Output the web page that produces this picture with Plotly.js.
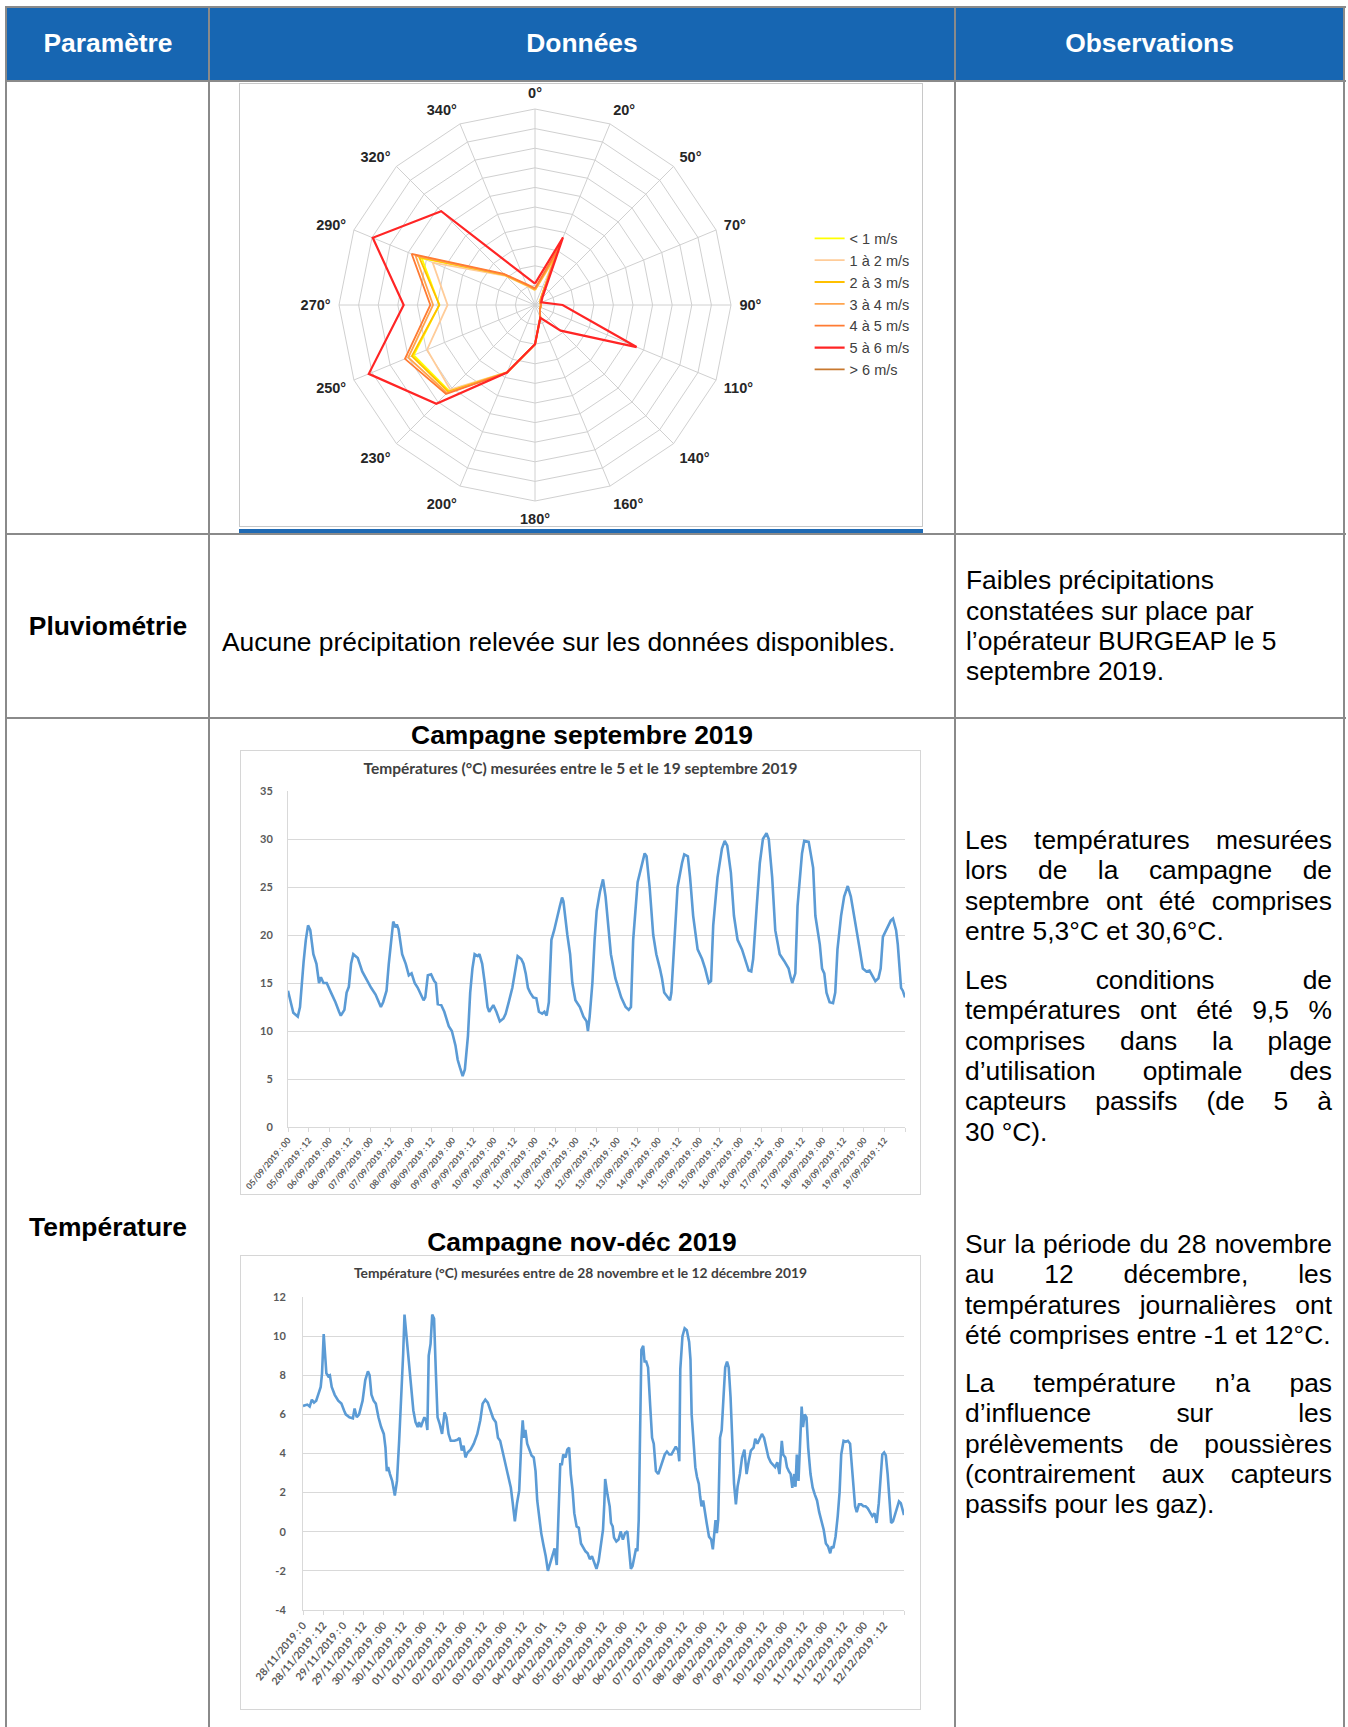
<!DOCTYPE html>
<html><head><meta charset="utf-8">
<script src="https://cdn.plot.ly/plotly-3.0.1.min.js"></script>
<style>
body{margin:0;background:#fff;}
#page{position:relative;width:1348px;height:1727px;overflow:hidden;font-family:'Liberation Sans',Arial,sans-serif;color:#000;background:#fff;}
.hl{position:absolute;height:2px;background:#8a8a8a;}
.vl{position:absolute;width:2px;background:#8a8a8a;}
.hdr{position:absolute;color:#fff;font-weight:bold;font-size:26.4px;line-height:30.4px;text-align:center;white-space:nowrap;}
.lbl{position:absolute;font-weight:bold;font-size:26.4px;line-height:30.4px;text-align:center;white-space:nowrap;}
.txt{position:absolute;font-size:26.4px;line-height:30.4px;white-space:nowrap;}
.par{position:absolute;left:965px;width:367px;font-size:26.4px;line-height:30.4px;}
.par div{text-align:justify;text-align-last:justify;white-space:nowrap;}
.par div.last{text-align:left;text-align-last:left;}
.frame{position:absolute;box-sizing:border-box;border:1px solid #d6d6d6;background:#fff;}
.plot{position:absolute;}
</style>
</head>
<body>
<div id="page">
  <div style="position:absolute;left:6px;top:7px;width:1338px;height:74px;background:#1766B2;"></div>
  <div class="hdr" style="left:7px;width:202px;top:27.8px;">Paramètre</div>
  <div class="hdr" style="left:209px;width:746px;top:27.8px;">Données</div>
  <div class="hdr" style="left:955px;width:389px;top:27.8px;">Observations</div>

  <div class="frame" style="left:239px;top:83px;width:684px;height:444px;border-color:#c8c8c8;"></div>
  <div style="position:absolute;left:239px;top:529px;width:684px;height:4px;background:#1F6AB4;"></div>

  <div class="lbl" style="left:7px;width:202px;top:610.8px;">Pluviométrie</div>
  <div class="txt" style="left:222px;top:626.8px;">Aucune précipitation relevée sur les données disponibles.</div>
  <div class="txt" style="left:966px;top:565.2px;">Faibles précipitations<br>constatées sur place par<br>l’opérateur BURGEAP le 5<br>septembre 2019.</div>

  <div class="lbl" style="left:7px;width:202px;top:1211.8px;">Température</div>
  <div class="lbl" style="left:209px;width:746px;top:719.8px;">Campagne septembre 2019</div>
  <div class="frame" style="left:240px;top:750px;width:681px;height:445px;"></div>

  <div class="lbl" style="left:209px;width:746px;top:1226.8px;">Campagne nov-déc 2019</div>
  <div class="frame" style="left:240px;top:1255px;width:681px;height:455px;"></div>
  <div id="tnov" class="plot" style="left:230px;top:1255px;width:691px;height:455px;"></div>
  <div id="tsep" class="plot" style="left:230px;top:750px;width:691px;height:475px;"></div>

  <div class="par" style="top:824.8px;">
    <div>Les températures mesurées</div>
    <div>lors de la campagne de</div>
    <div>septembre ont été comprises</div>
    <div class="last">entre 5,3°C et 30,6°C.</div>
  </div>
  <div class="par" style="top:964.8px;">
    <div>Les conditions de</div>
    <div>températures ont été 9,5 %</div>
    <div>comprises dans la plage</div>
    <div>d’utilisation optimale des</div>
    <div>capteurs passifs (de 5 à</div>
    <div class="last">30 °C).</div>
  </div>
  <div class="par" style="top:1228.8px;">
    <div>Sur la période du 28 novembre</div>
    <div>au 12 décembre, les</div>
    <div>températures journalières ont</div>
    <div class="last">été comprises entre -1 et 12°C.</div>
  </div>
  <div class="par" style="top:1367.8px;">
    <div>La température n’a pas</div>
    <div>d’influence sur les</div>
    <div>prélèvements de poussières</div>
    <div>(contrairement aux capteurs</div>
    <div class="last">passifs pour les gaz).</div>
  </div>

  <div class="hl" style="left:6px;top:6px;width:1340px;"></div>
  <div class="hl" style="left:6px;top:80px;width:1340px;"></div>
  <div class="hl" style="left:6px;top:533px;width:1340px;"></div>
  <div class="hl" style="left:6px;top:717px;width:1340px;"></div>
  <div class="vl" style="left:5px;top:6px;height:1721px;"></div>
  <div class="vl" style="left:208px;top:6px;height:1721px;"></div>
  <div class="vl" style="left:954px;top:6px;height:1721px;"></div>
  <div class="vl" style="left:1343px;top:6px;height:1721px;"></div>

  <div id="rose" class="plot" style="left:240px;top:70px;width:683px;height:490px;"></div>
</div>
<script>
// ---------- Wind rose data ----------
const dirLabels = ['0°','20°','50°','70°','90°','110°','140°','160°','180°','200°','230°','250°','270°','290°','320°','340°'];
const speedClasses = ['< 1 m/s','1 à 2 m/s','2 à 3 m/s','3 à 4 m/s','4 à 5 m/s','5 à 6 m/s','> 6 m/s'];
const freqLt1  = [0.77, 2.7, 0.4, 0.3, 0.3, 0.3, 0.35, 0.7, 2.0, 3.72, 6.2, 6.7, 4.88, 6.26, 2.15, 1.08];
const freq1to2 = [0.75, 2.5, 0.4, 0.3, 0.3, 0.3, 0.35, 0.7, 2.0, 3.7, 6.11, 5.96, 4.46, 5.65, 2.1, 1.05];
const freq2to3 = [0.78, 2.8, 0.4, 0.3, 0.3, 0.3, 0.35, 0.7, 2.0, 3.72, 6.25, 6.8, 4.88, 6.4, 2.15, 1.1];
const freq3to4 = [0.8, 3.0, 0.4, 0.3, 0.3, 0.3, 0.35, 0.7, 2.0, 3.73, 6.35, 7.0, 5.2, 6.6, 2.2, 1.12];
const freq4to5 = [0.85, 3.2, 0.45, 0.3, 0.3, 0.3, 0.35, 0.7, 2.0, 3.73, 6.42, 7.18, 5.34, 6.81, 2.25, 1.15];
const freq5to6 = [1.09, 3.73, 0.53, 0.35, 1.41, 5.61, 1.85, 0.71, 2.0, 3.73, 7.12, 9.18, 6.70, 8.96, 6.77, 1.73];
const freqGt6  = [0, 0, 0, 0, 0, 0, 0, 0, 0, 0, 0, 0, 0, 0, 0, 0];

// ---------- Temperature data (September) ----------
const sepHours = [0,3.1,5.7,7,9.1,10.4,11.7,13,14.8,16.6,18.1,19.2,20.7,22.6,25.1,27.7,29.8,30.8,32.9,34.2,35.5,36.8,38.1,40.7,43.3,45.4,48.5,51.1,52.4,54.2,55.5,57.5,58.8,61.4,62.7,63.5,64.5,66.6,68.7,70.5,72.1,73.9,75.7,77,79.1,80.1,81.6,83.5,85.3,86.3,87.4,89.4,91.2,93.8,95.6,97.7,99,100.3,101.9,103.2,105,106.3,107.6,108.9,110.7,111.7,113.3,114.8,116.4,117.4,119.8,121.6,123.6,125.7,127,128.8,130.9,134,136.1,137.4,138.7,140,141.3,143.1,144.9,146.4,148.3,149.6,150.9,152.2,153.7,155.3,156.8,158.6,159.9,160.7,163,164.6,165.9,167.7,170.3,172.4,174.2,175,176,177.6,178.9,180.1,182,183.3,183.8,185.3,187.1,188.4,191,192.8,194.4,197,198.8,200.1,201.4,204,206.6,208.1,209.2,211,213.1,214.9,217,218.2,219.5,221.4,222.9,223.7,225.2,227.3,229.9,231.2,233.3,234.6,236.4,239,241.6,243.4,245.5,246.8,248.1,250.6,253.2,254.8,256.3,258.4,260.2,262.3,264.9,266.7,268.8,270.3,271.4,273.5,275.3,277.1,279.2,280.5,282.5,284.3,286.9,289.5,292.1,293.4,294.2,296,297.3,299.9,301.2,303.8,306.4,307.7,310.3,311.6,312.9,314.2,316,318,319.3,320.6,322.7,324.5,326.6,328.4,329.7,331.5,333.6,335.4,337.5,339.3,340.8,342.7,344.5,345.8,347.1,349.1,351.7,353,354.8,355.8,356.9,357.7,358.7,360];
const sepTemps = [14.2,11.9,11.5,12.5,17.2,19.5,21.0,20.5,18,17,15,15.6,15,15,14,13,12,11.6,12.2,14,14.6,17,18,17.6,16.2,15.5,14.5,13.8,13.2,12.5,13,14.2,17,21.4,20.8,21.1,20.6,18,17,15.8,16,15,14.5,14,13.2,13.5,15.8,15.9,15.2,15,12.8,12.7,12,10.5,10,8.5,7,6.2,5.3,6,9.5,14,16.5,18,17.8,18,17,15,12.5,12,12.7,12,11,11.3,11.8,13,14.5,17.8,17.5,17,16,14.5,14,13.5,13.4,12,11.8,12,11.6,13,19.5,20.5,21.5,23,23.9,23.5,20,18,15,13.2,12.5,11.5,11,10,11.5,15,19.5,22.5,24.5,25.5,25.8,24,20,18,15.5,14.5,13.5,12.5,12.2,12.5,19.5,25.5,27.5,28.5,28.2,25,20,18,16.5,15.5,14,13.5,13.2,14,19,25,27.5,28.4,28.2,26,22,18.5,17.5,16.5,15,15.2,21,26,29,29.8,29.3,26.5,22,19.5,18.5,17.5,16.3,16.2,17.5,23,27.5,30,30.6,30,26,20.5,18,17.3,16.5,15.5,15,16,23,28.5,29.8,29.7,27,22,19,16.5,16,14,13,12.9,14,18.5,22,24,25.1,24,22.5,20.5,18.5,16.5,16.2,16.3,15.8,15.2,15.5,16.5,19.8,20.5,21.5,21.7,20.5,19,16,14.5,14.2,13.5];
const sepTickLabels = ['05/09/2019 : 00','05/09/2019 : 12','06/09/2019 : 00','06/09/2019 : 12','07/09/2019 : 00','07/09/2019 : 12','08/09/2019 : 00','08/09/2019 : 12','09/09/2019 : 00','09/09/2019 : 12','10/09/2019 : 00','10/09/2019 : 12','11/09/2019 : 00','11/09/2019 : 12','12/09/2019 : 00','12/09/2019 : 12','13/09/2019 : 00','13/09/2019 : 12','14/09/2019 : 00','14/09/2019 : 12','15/09/2019 : 00','15/09/2019 : 12','16/09/2019 : 00','16/09/2019 : 12','17/09/2019 : 00','17/09/2019 : 12','18/09/2019 : 00','18/09/2019 : 12','19/09/2019 : 00','19/09/2019 : 12'];
const sepYTicks = [0,5,10,15,20,25,30,35];

// ---------- Temperature data (November-December) ----------
const novHours = [0,2.6,4,5.3,6.6,7.9,9.3,10.6,11.4,12.4,13.2,14,15.1,16.1,17.2,19,21.1,23,24.6,25.6,27.8,29.9,30.9,32.2,33.6,35.7,37.3,38.9,39.9,41,42.3,43.6,45.2,46.8,48.4,49.4,50.2,51,52.1,53.4,55,56.3,57.6,58.9,60,60.8,62.1,63.4,64.8,66.1,67.4,68.7,69.5,70.6,71.6,72.7,73.7,74.5,75.3,76.4,77.4,78.5,79.6,80.6,81.9,83.3,84.8,85.9,87.2,88.5,90.7,92.5,93.8,95.1,96.2,97.3,98.6,100.4,102.3,104.4,106.2,107.6,109.2,110.7,112.3,113.9,115.5,116.8,118.1,119.5,120.8,122.9,124.5,125.5,126.1,126.9,128.2,129.5,130.8,131.6,132.4,133.2,134.3,135.6,136.9,138.2,139.3,140.3,141.4,142.7,144,145.4,146.7,148,149.3,150.7,152,152.8,153.6,154.1,155.1,155.9,157.3,158.3,159.4,160.4,161.5,162.5,163.9,165.2,166.5,167.8,169.2,170.5,171.8,173.1,174.4,175.8,177.1,178.4,179.7,180.5,181,182.4,183.7,184.5,185.5,186.3,187.7,189,190.3,191.6,192.9,194.3,195.6,196.4,197.4,198.5,199.5,200.3,201.1,201.9,202.7,203.8,204.6,205.6,206.7,208,209.1,210.1,211.4,212.8,214.1,215.4,216.7,218,219.4,220.7,222,223.3,224.7,225.4,226,227.3,228.6,229.9,231.3,232.1,232.8,233.9,235,236,237.1,237.9,238.7,239.7,240.8,241.8,243.2,244.5,245.5,246.3,247.1,247.9,248.7,249.8,250.8,251.9,252.9,254,255,256.1,257.2,258.2,259.3,260.3,261.7,263,264.4,265.7,267,268.3,269.9,270.9,272.2,273.6,274.9,276.2,277.5,278.8,280.2,281.5,282.8,284.1,285.4,286.8,287.6,288.9,289.9,291,292.1,293.1,294.2,295,295.8,296.8,297.9,298.7,299.5,300.5,301.6,302.6,304,305.3,306.6,307.9,309.2,310.6,311.9,313.2,314.5,315.8,316.7,317.7,319,320.3,321.4,322.4,323.8,325.1,326.4,327.7,329.1,329.9,330.7,331.7,333,334.4,335.7,337,338.3,339.6,341,342.3,343.6,344.9,346,347,348.1,349.1,350.2,351.3,352.3,353.4,354.7,356,357,358.1,359.2,360];
const novTemps = [6.43,6.5,6.4,6.75,6.6,6.7,7.06,7.4,8.1,10.1,9.1,8.1,7.95,8.0,7.4,7.0,6.7,6.55,6.2,6.0,5.85,5.8,6.3,5.85,6.0,6.7,7.75,8.2,8.0,7.0,6.7,6.55,5.85,5.35,5.0,4.3,3.1,3.3,2.95,2.6,1.85,2.6,4.65,6.7,9.1,11.1,9.8,8.8,7.4,6.2,5.6,5.35,5.6,5.35,5.6,5.85,5.7,5.2,9.0,9.6,11.1,10.9,8.1,5.85,5.5,5.0,6.1,5.85,5.0,4.65,4.65,4.7,4.8,4.15,4.4,3.8,4.05,4.2,4.5,5.0,5.7,6.55,6.75,6.6,6.2,5.8,5.6,4.8,4.65,4.15,3.7,2.95,2.25,1.55,0.95,0.53,1.46,2.1,4.65,5.7,4.8,5.2,4.5,4.15,3.9,3.8,3.1,1.6,0.8,-0.07,-0.66,-1.25,-2.0,-1.6,-1.2,-0.85,-1.7,0.27,1.8,3.45,3.45,3.95,3.8,4.2,4.3,2.95,2.1,0.95,0.27,0.2,-0.6,-0.83,-1.0,-1.1,-1.4,-1.25,-1.6,-1.9,-1.5,-0.75,0.1,1.46,2.7,1.9,1.3,0.45,0.27,-0.3,-0.5,-0.4,0.02,-0.4,-0.07,0.02,-1.1,-1.9,-1.75,-1.2,-0.85,-1.0,0.6,5.0,9.3,9.5,8.7,8.7,8.4,6.4,4.8,4.5,3.1,2.95,3.3,3.6,3.95,4.1,3.95,3.95,4.15,4.35,4.15,3.6,8.3,10.0,10.4,10.3,9.7,8.8,6.0,4.65,3.3,2.8,2.45,1.8,1.3,1.6,1.1,0.45,-0.25,-0.4,-0.9,-0.15,0.6,-0.07,0.6,4.8,5.2,6.9,8.4,8.7,8.4,6.9,4.65,2.45,1.4,2.3,2.95,3.8,4.2,2.95,3.6,4.15,4.3,4.75,4.5,4.8,5.0,4.8,4.3,3.8,3.55,3.45,3.3,3.55,2.95,4.65,3.95,3.8,3.3,3.1,2.95,2.25,2.95,2.3,3.95,2.6,5.0,6.4,5.35,6.0,5.85,4.3,2.95,2.25,1.9,1.6,1.0,0.45,0.1,-0.6,-0.75,-1.1,-0.75,-0.83,-0.25,0.8,2.0,3.95,4.65,4.6,4.65,4.5,3.1,2.0,1.3,1.0,1.4,1.4,1.3,1.3,1.2,1.0,0.8,0.95,0.45,1.46,2.95,3.95,4.05,3.9,2.95,1.8,0.45,0.53,0.95,1.3,1.55,1.46,1.1,0.85];
const novTickLabels = ['28/11/2019 : 0','28/11/2019 : 12','29/11/2019 : 0','29/11/2019 : 12','30/11/2019 : 00','30/11/2019 : 12','01/12/2019 : 00','01/12/2019 : 12','02/12/2019 : 00','02/12/2019 : 12','03/12/2019 : 00','03/12/2019 : 12','04/12/2019 : 01','04/12/2019 : 13','05/12/2019 : 00','05/12/2019 : 12','06/12/2019 : 00','06/12/2019 : 12','07/12/2019 : 00','07/12/2019 : 12','08/12/2019 : 00','08/12/2019 : 12','09/12/2019 : 00','09/12/2019 : 12','10/12/2019 : 00','10/12/2019 : 12','11/12/2019 : 00','11/12/2019 : 12','12/12/2019 : 00','12/12/2019 : 12'];
const novYTicks = [-4,-2,0,2,4,6,8,10,12];
const novYLabels = ['-4','-2','0','2','4','6','8','10','12'];

// ---------- Wind rose ----------
const roseSeries = [freqLt1, freq1to2, freq2to3, freq3to4, freq4to5, freq5to6, freqGt6];
const roseColors = ['#FFFF00','#FFCC99','#FFC000','#FFA54F','#FF7B33','#FF2525','#C8782E'];
const roseTraces = roseSeries.map((r, i) => ({
  type: 'scatterpolar', mode: 'lines',
  r: r.concat([r[0]]), theta: dirLabels.concat([dirLabels[0]]),
  name: speedClasses[i], legendgroup: 'g' + i,
  line: {color: roseColors[i], width: i === 5 ? 2.2 : 1.8},
  hoverinfo: 'skip'
}));
const W = 683, H = 490, cx = 295, cy = 235, R = 196;
Plotly.newPlot('rose', roseTraces, {
  width: W, height: H, margin: {l: 0, r: 0, t: 0, b: 0},
  paper_bgcolor: 'rgba(0,0,0,0)',
  showlegend: true,
  legend: {x: 0.834, xanchor: 'left', y: 0.689, yanchor: 'top', tracegroupgap: 0,
    font: {family: 'Liberation Sans, Arial', size: 14.5, color: '#404040'}, itemwidth: 30, bgcolor: 'rgba(0,0,0,0)'},
  polar: {
    domain: {x: [(cx - R) / W, (cx + R) / W], y: [(H - cy - R) / H, (H - cy + R) / H]},
    gridshape: 'linear', bgcolor: 'rgba(0,0,0,0)',
    angularaxis: {type: 'category', categoryarray: dirLabels, direction: 'clockwise', rotation: 90,
      showline: true, linecolor: '#d0d0d0', linewidth: 1, gridcolor: '#d0d0d0',
      ticks: 'outside', ticklen: 5, tickcolor: 'rgba(0,0,0,0)',
      tickfont: {family: 'Liberation Sans, Arial', size: 14.5, color: '#262626', weight: 'bold'}},
    radialaxis: {range: [0, 10], dtick: 1, showticklabels: false, ticks: '', showline: false,
      gridcolor: '#d0d0d0', angle: 90}
  }
}, {staticPlot: true, displayModeBar: false});

// ---------- Temperature charts ----------
// frame of each chart spans x 240..921 on the page; plot div starts at x 230 (width 691)
const titleX = (580.5 - 230) / 691;
function tempChart(id, hours, temps, tickLabels, yTicks, yLabels, yRange, title, opts) {
  const tv = tickLabels.map((_, i) => i * 12).concat([360]);
  const tt = tickLabels.concat(['']);
  const yFont = {family: 'Lato, sans-serif', size: 11, color: '#595959', weight: 'bold'};
  const xFont = {family: 'Lato, sans-serif', size: opts.xSize, color: '#595959', weight: 'bold'};
  Plotly.newPlot(id, [{
    type: 'scatter', mode: 'lines', x: hours, y: temps,
    line: {color: '#5B9BD5', width: 2.6}, hoverinfo: 'skip'
  }], {
    width: 691, height: opts.h, margin: opts.margin,
    paper_bgcolor: 'rgba(0,0,0,0)', plot_bgcolor: 'rgba(0,0,0,0)', showlegend: false,
    title: {text: title, x: titleX, xanchor: 'center', xref: 'container', y: 1 - 18.3 / opts.h, yanchor: 'middle', yref: 'container',
      font: {family: 'Lato, sans-serif', size: opts.titleSize, color: '#404040', weight: 'bold'}},
    xaxis: {range: [0, 360], tickmode: 'array', tickvals: tv, ticktext: tt, tickangle: opts.angle,
      tickfont: xFont, showgrid: false, zeroline: false, showline: true, linecolor: '#d9d9d9',
      ticks: 'outside', ticklen: 4, tickcolor: '#d9d9d9', ticklabeloverflow: 'allow'},
    yaxis: {range: yRange, tickmode: 'array', tickvals: yTicks, ticktext: yLabels, tickfont: yFont,
      showgrid: true, gridcolor: '#d9d9d9', gridwidth: 1, zeroline: false, showline: true, linecolor: '#d9d9d9',
      ticks: '', ticklabelstandoff: opts.standoff}
  }, {staticPlot: true, displayModeBar: false});
}
tempChart('tsep', sepHours, sepTemps, sepTickLabels, sepYTicks, sepYTicks.map(String), [0, 35],
  'Températures (°C) mesurées entre le 5 et le 19 septembre 2019',
  {h: 475, margin: {l: 58, r: 16, t: 41, b: 98}, xSize: 8.6, angle: -50, titleSize: 15.5, standoff: 12});
tempChart('tnov', novHours, novTemps, novTickLabels, novYTicks, novYLabels, [-4, 12],
  'Température (°C) mesurées entre de 28 novembre et le 12 décembre 2019',
  {h: 455, margin: {l: 73, r: 17, t: 42, b: 100}, xSize: 10.5, angle: -50, titleSize: 13.8, standoff: 14});
</script>
</body></html>
